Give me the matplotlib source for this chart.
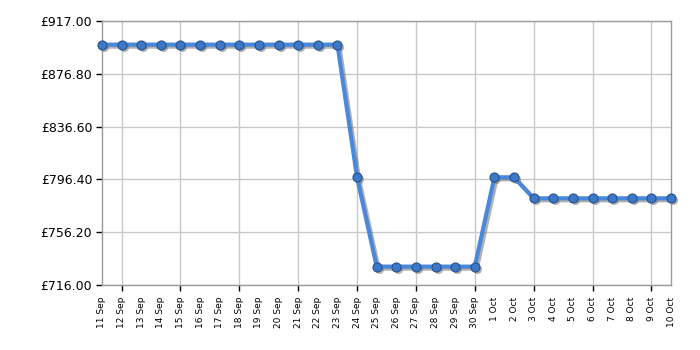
import matplotlib
matplotlib.use("Agg")
import matplotlib.pyplot as plt
import matplotlib.transforms as mtransforms
from matplotlib.ticker import FixedLocator, NullFormatter

days = ["11 Sep", "12 Sep", "13 Sep", "14 Sep", "15 Sep", "16 Sep", "17 Sep",
        "18 Sep", "19 Sep", "20 Sep", "21 Sep", "22 Sep", "23 Sep", "24 Sep",
        "25 Sep", "26 Sep", "27 Sep", "28 Sep", "29 Sep", "30 Sep",
        "1 Oct", "2 Oct", "3 Oct", "4 Oct", "5 Oct", "6 Oct", "7 Oct",
        "8 Oct", "9 Oct", "10 Oct"]
prices = [899.0] * 13 + [798.0] + [730.0] * 6 + [798.0, 798.0] + [782.0] * 8
yticks = [716.00, 756.20, 796.40, 836.60, 876.80, 917.00]

fig = plt.figure(figsize=(7, 3.5), dpi=100)
ax = fig.add_axes([102 / 700, 65 / 350, 569 / 700, 264 / 350])

x = list(range(len(days)))

# grey drop shadow, shifted a couple of pixels right/down
shadow_tr = mtransforms.offset_copy(ax.transData, fig=fig, x=2, y=-2, units="dots")
ax.plot(x, prices, color="#707070", lw=3, alpha=0.55, zorder=2,
        marker="o", markersize=6.5, markeredgewidth=0,
        transform=shadow_tr, clip_on=False)
ax.plot(x, prices, color="#4a88dc", lw=3, zorder=3,
        marker="o", markersize=6.5, markerfacecolor="#3c78c8",
        markeredgecolor="#26508a", markeredgewidth=0.8, clip_on=False)

ax.set_xlim(0, len(days) - 1)
ax.set_ylim(yticks[0], yticks[-1])

ax.set_yticks(yticks)
ax.set_yticklabels(["£{:.2f}".format(v) for v in yticks], fontsize=9)
ax.tick_params(axis="y", length=4, color="black", width=1, pad=3)
ax.grid(True, axis="y", color="#c8c8c8", lw=1)

# a label on every day, tick mark + grid line every third day from 12 Sep
ax.set_xticks(x)
ax.set_xticklabels(days, fontsize=6.5, rotation="vertical")
ax.tick_params(axis="x", which="major", length=0, pad=8.5)
ax.xaxis.remove_overlapping_locs = False
ax.xaxis.set_minor_locator(FixedLocator(x[1::3]))
ax.xaxis.set_minor_formatter(NullFormatter())
ax.tick_params(axis="x", which="minor", length=4, color="black", width=1)
ax.grid(True, which="minor", axis="x", color="#c8c8c8", lw=1)
ax.set_axisbelow(True)

for s in ax.spines.values():
    s.set_color("#9a9a9a")
    s.set_linewidth(1)

fig.savefig("out.png", dpi=100)
